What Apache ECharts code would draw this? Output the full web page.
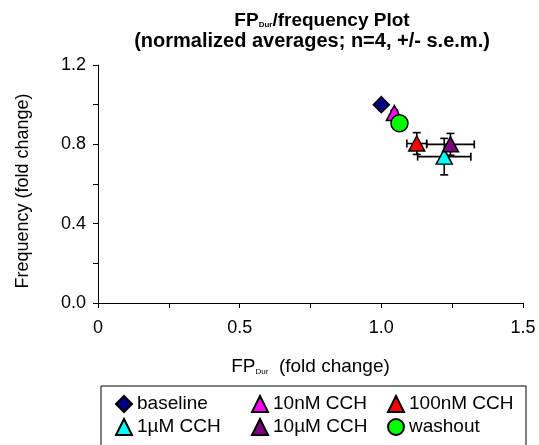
<!DOCTYPE html>
<html>
<head>
<meta charset="utf-8">
<script src="https://cdn.jsdelivr.net/npm/echarts@6/dist/echarts.min.js"></script>
<style>
  html, body { margin: 0; padding: 0; background: #fff; }
  #chart { width: 539px; height: 445px; }
</style>
</head>
<body>
<div id="chart"></div>
<script>
// Treatment groups, normalized to baseline
const groups = ['baseline', '10nM CCH', '100nM CCH', '1µM CCH', '10µM CCH', 'washout'];
// FP duration (fold change) and its s.e.m.
const fpDur = [1.00, 1.046, 1.125, 1.222, 1.244, 1.064];
const fpDurSem = [0.0, 0.01, 0.035, 0.094, 0.084, 0.01];
// Frequency (fold change) and its s.e.m.
const freq = [1.00, 0.958, 0.804, 0.738, 0.800, 0.906];
const freqSem = [0.0, 0.01, 0.055, 0.092, 0.055, 0.01];

const colors = ['#000080', '#FF00FF', '#FF0000', '#00FFFF', '#800080', '#00FF00'];
const symbols = ['diamond', 'triangle', 'triangle', 'triangle', 'triangle', 'circle'];
const sizes = [[16, 16], [16, 15], [16, 15], [16, 15], [16, 15], [17, 17]];

const font = 'Liberation Sans, Arial, sans-serif';
const chart = echarts.init(document.getElementById('chart'), null, { renderer: 'canvas' });

// One row per group: x, y, x-error, y-error
const errorRows = groups.map((g, i) => [fpDur[i], freq[i], fpDurSem[i], freqSem[i]]);

function renderErrorBars(params, api) {
  const x = api.value(0), y = api.value(1), ex = api.value(2), ey = api.value(3);
  const cap = 4;
  const children = [];
  const style = { stroke: '#000', lineWidth: 1.6 };
  if (ex > 0) {
    const l = api.coord([x - ex, y]), r = api.coord([x + ex, y]);
    children.push({ type: 'line', shape: { x1: l[0], y1: l[1], x2: r[0], y2: r[1] }, style });
    children.push({ type: 'line', shape: { x1: l[0], y1: l[1] - cap, x2: l[0], y2: l[1] + cap }, style });
    children.push({ type: 'line', shape: { x1: r[0], y1: r[1] - cap, x2: r[0], y2: r[1] + cap }, style });
  }
  if (ey > 0) {
    const t = api.coord([x, y + ey]), b = api.coord([x, y - ey]);
    children.push({ type: 'line', shape: { x1: t[0], y1: t[1], x2: b[0], y2: b[1] }, style });
    children.push({ type: 'line', shape: { x1: t[0] - cap, y1: t[1], x2: t[0] + cap, y2: t[1] }, style });
    children.push({ type: 'line', shape: { x1: b[0] - cap, y1: b[1], x2: b[0] + cap, y2: b[1] }, style });
  }
  return { type: 'group', children };
}

const pointSeries = groups.map((g, i) => ({
  name: g,
  type: 'scatter',
  symbol: symbols[i],
  symbolSize: sizes[i],
  data: [[fpDur[i], freq[i]]],
  itemStyle: { color: colors[i], borderColor: '#000', borderWidth: 1.5, opacity: 1 },
  z: 3 + i,
  silent: true
}));

const option = {
  animation: false,
  backgroundColor: '#fff',
  graphic: [{
    type: 'text', x: 322, y: 21,
    style: {
      text: 'FP{sub|Dur}/frequency Plot',
      font: 'bold 19px ' + font, fill: '#000',
      align: 'center', verticalAlign: 'middle',
      rich: { sub: { font: 'bold 8px ' + font, fill: '#000', padding: [8, 0, 0, 0] } }
    }
  }, {
    type: 'text', x: 312, y: 41,
    style: {
      text: '(normalized averages; n=4, +/- s.e.m.)',
      font: 'bold 20px ' + font, fill: '#000',
      align: 'center', verticalAlign: 'middle'
    }
  }],
  grid: { left: 98, right: 16, top: 65, bottom: 142, containLabel: false },
  xAxis: {
    type: 'value', min: 0, max: 1.5, interval: 0.25,
    name: 'FP{sub|Dur}  (fold change)',
    nameLocation: 'middle', nameGap: 54,
    nameTextStyle: {
      fontFamily: font, fontSize: 19, color: '#000',
      rich: { sub: { fontFamily: font, fontSize: 8, verticalAlign: 'bottom', padding: [9, 0, 0, 0] } }
    },
    axisLine: { show: true, onZero: false, lineStyle: { color: '#000', width: 1 } },
    axisTick: { show: true, length: 5, lineStyle: { color: '#000' } },
    axisLabel: {
      fontFamily: font, fontSize: 18, color: '#000', margin: 16,
      formatter: v => {
        const k = Math.round(v * 100);
        if (k % 50 !== 0) return '';
        return k === 0 ? '0' : v.toFixed(1);
      }
    },
    splitLine: { show: false }
  },
  yAxis: {
    type: 'value', min: 0, max: 1.2, interval: 0.2,
    name: 'Frequency (fold change)',
    nameLocation: 'middle', nameGap: 66,
    nameTextStyle: { fontFamily: font, fontSize: 18, color: '#000', padding: [0, 14, 0, 0] },
    axisLine: { show: true, onZero: false, lineStyle: { color: '#000', width: 1 } },
    axisTick: { show: true, length: 5, lineStyle: { color: '#000' } },
    axisLabel: {
      fontFamily: font, fontSize: 18, color: '#000', margin: 12,
      formatter: v => {
        const k = Math.round(v * 10);
        return k % 4 === 0 ? v.toFixed(1) : '';
      }
    },
    splitLine: { show: false }
  },
  legend: {
    data: groups,
    left: 101, top: 386, width: 405,
    orient: 'horizontal',
    padding: [8, 6, 30, 14],
    itemGap: 3, itemWidth: 16, itemHeight: 16,
    borderColor: '#000', borderWidth: 1, borderRadius: 0,
    selectedMode: false,
    textStyle: { fontFamily: font, fontSize: 19, color: '#000', width: 111, lineHeight: 20 }
  },
  series: [{
    type: 'custom',
    renderItem: renderErrorBars,
    data: errorRows,
    z: 2,
    silent: true,
    encode: { x: 0, y: 1 }
  }].concat(pointSeries)
};
chart.setOption(option);
</script>
</body>
</html>
